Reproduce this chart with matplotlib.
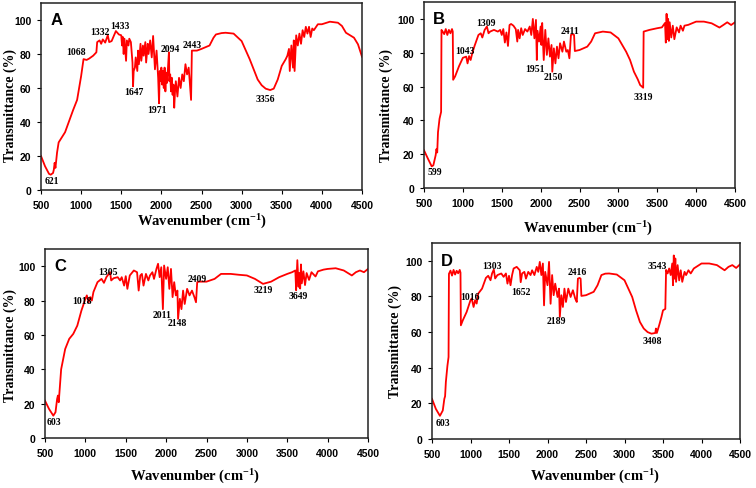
import matplotlib
matplotlib.use("Agg")
import matplotlib.pyplot as plt

plt.rcParams["mathtext.fontset"] = "custom"
plt.rcParams["mathtext.rm"] = "Liberation Serif:bold"
plt.rcParams["mathtext.bf"] = "Liberation Serif:bold"
plt.rcParams["mathtext.default"] = "bf"

# ---- Data ----
wn_a = [500, 550, 600, 621, 650, 660, 670, 680, 700, 720, 800, 900, 950, 1000, 1030, 1068, 1100, 1150, 1190,
        1200, 1230, 1250, 1270, 1300, 1332, 1350, 1380, 1433, 1470, 1500, 1510, 1520, 1530, 1540, 1560, 1570,
        1590, 1600, 1620, 1640, 1647, 1655, 1670, 1680, 1700, 1710, 1720, 1740, 1750, 1770, 1780, 1800, 1810,
        1830, 1840, 1860, 1880, 1897, 1910, 1920, 1940, 1960, 1971, 1980, 1990, 2000, 2010, 2020, 2030, 2040,
        2050, 2060, 2070, 2080, 2094, 2100, 2110, 2120, 2130, 2140, 2150, 2160, 2170, 2180, 2200, 2220, 2240,
        2260, 2280, 2300, 2320, 2340, 2350, 2370, 2380, 2443, 2500, 2550, 2600, 2650, 2680, 2750, 2800, 2900,
        3000, 3100, 3150, 3200, 3250,
        3300, 3356, 3400, 3450, 3500, 3550, 3570, 3590, 3600, 3620, 3640, 3650, 3660, 3680, 3700, 3720, 3740,
        3760, 3780, 3800, 3820, 3840, 3860, 3880, 3900, 3950, 4000, 4100, 4200, 4250, 4300, 4400, 4450, 4500]
t_a = [20, 14, 9.5, 9, 10, 12, 16, 13, 22, 28, 34, 47, 53, 67, 77, 76.5, 77.3, 79, 81,
       87, 88, 86, 88.6, 86.7, 91, 87, 87.6, 93.5, 91.5, 91, 85, 90, 80, 89, 76, 88,
       85, 89, 87, 75, 61, 70, 72, 78, 70, 82, 74, 86, 76, 85, 79, 87, 75,
       86, 80, 88, 78, 90.6, 80, 71, 82, 66, 51, 70, 64, 72, 62, 70, 60, 72,
       58, 69, 63, 70, 81, 64, 68, 58, 66, 56, 62, 48.4, 58, 64, 55, 66, 60,
       68, 64, 74, 68, 72, 66, 53, 82, 82, 83, 84, 85, 89.6, 91.5, 92.3, 92.5, 92,
       87.6, 77, 71, 65, 61.6,
       59.6, 58.8, 59.6, 65, 73, 77, 79, 83, 70, 85, 72, 88, 70, 91, 85, 92, 86,
       94, 90, 96, 92, 96, 90, 95, 94, 97.5, 97.5, 99, 98.4, 96.5, 92.5, 89.6, 85.7, 78.4]

wn_b = [500, 550, 599, 620, 650, 660, 670, 680, 700, 720, 725, 740, 760, 780, 800, 820, 840, 860, 870, 875,
        900, 950, 1000, 1043, 1060, 1080, 1100, 1120, 1150, 1200, 1230, 1250, 1280, 1309, 1330, 1350, 1400,
        1450, 1480, 1500, 1520, 1540, 1560, 1580, 1600, 1620, 1650, 1680, 1700, 1710, 1730, 1750, 1770, 1800,
        1830, 1860, 1880, 1900, 1920, 1940, 1951, 1960, 1980, 2000, 2010, 2020, 2040, 2060, 2080, 2100, 2120,
        2140, 2150, 2170, 2190, 2210, 2230, 2250, 2280, 2300, 2330, 2350, 2370, 2390, 2411, 2430, 2440, 2500,
        2600, 2650, 2700, 2750, 2800, 2900, 3000, 3100, 3150, 3200, 3250, 3280, 3319, 3325, 3400, 3500, 3560,
        3600, 3610, 3620,
        3630, 3640, 3650, 3660, 3680, 3700, 3720, 3750, 3780, 3800, 3830, 3850, 3900, 4000, 4100, 4200, 4300,
        4350, 4400, 4450, 4500]
t_b = [22.3, 17.4, 12.8, 13.4, 19.4, 23, 21, 33, 41, 45, 93.5, 92.5, 91, 94, 90.5, 93.5, 91.5, 94, 92.5, 64,
       66, 72, 77, 77.7, 73.7, 78, 75.7, 79.6, 84, 90.5, 91.5, 89, 93.5, 95.5, 91.5, 92.5, 93.5,
       92.5, 93.5, 90.5, 94, 86, 92, 84, 96.4, 97, 96, 94, 86.6, 93.5, 88.5, 94.5, 90.5, 94,
       92.5, 95.5, 90.5, 100, 88.5, 99.4, 75.7, 93, 86.6, 95.5, 84.6, 97.6, 75.7, 93.5, 78.7, 88.5, 77.7,
       84.6, 68.8, 82.6, 73.7, 83.6, 76.7, 85.6, 80.6, 86.6, 80.6, 81.6, 76.7, 90.5, 91, 90.5, 81, 81.6,
       83.6, 86.6, 91.5, 92, 92.5, 92, 88.5, 80.6, 75.7, 68.8, 64.2, 60.9, 59.3, 92.5, 93.5, 94.5, 95,
       97.6, 86, 103,
       88, 100, 87, 98, 89, 96, 88, 95, 92, 96, 93, 96, 96.5, 98.4, 98.4, 97.4, 94.9,
       96.4, 98, 96.4, 98]

wn_c = [500, 550, 603, 630, 650, 660, 670, 700, 750, 800, 850, 900, 950, 1000, 1018, 1040, 1060, 1080, 1100,
        1150, 1200, 1230, 1260, 1305, 1320, 1350, 1400, 1430, 1450, 1480, 1500, 1520, 1550, 1600, 1640, 1660,
        1680, 1700, 1720, 1750, 1780, 1800, 1830, 1850, 1880, 1900, 1920, 1940, 1960, 1975, 2000, 2020, 2040,
        2060, 2080, 2100, 2120, 2140, 2148, 2170, 2190, 2210, 2230, 2260, 2290, 2320, 2350, 2370, 2385, 2409,
        2500, 2600, 2680, 2800, 2900, 3000, 3100, 3200, 3300, 3400, 3500, 3560, 3600, 3610, 3625, 3640, 3650,
        3660, 3670, 3680, 3700, 3720, 3740, 3770, 3800, 3850, 3880, 3950, 4000, 4100, 4200, 4300, 4350, 4400,
        4450, 4500]
t_c = [21.7, 16.9, 13, 15, 22.7, 24.7, 20.8, 40, 51.8, 57.7, 60.6, 65.4, 74, 81, 83, 79, 82, 80, 85,
       90.7, 92.6, 90.3, 93.6, 96.5, 91.7, 93, 93.6, 91.7, 93.6, 88.7, 94.2, 86.8, 94.6, 97.5, 96.5, 85.8,
       94.6, 95.5, 88.7, 95.5, 91.7, 94.6, 96.5, 92.6, 98.4, 101.4, 93.6, 99.4, 75, 100.4, 92.6, 99.4, 86.8,
       98.4, 82, 90.7, 83, 85.8, 69.3, 81, 75, 85.8, 78, 86.8, 83, 85.8, 82, 79, 90.7, 91,
       91, 92.6, 95.5, 95.5, 95, 94.6, 92.6, 89.7, 91, 93.6, 95.5, 96.5, 97.5, 86, 103.5, 88, 96,
       87, 101, 90, 97, 89, 96, 92, 96.5, 94, 97, 98, 98.4, 98.8, 97.5, 94.6, 96.5, 97.5,
       96.5, 98.4]

wn_d = [500, 550, 603, 640, 660, 670, 680, 700, 715, 720, 740, 760, 780, 800, 820, 840, 860, 870, 875, 900,
        950, 1000, 1016, 1040, 1060, 1080, 1100, 1150, 1200, 1230, 1260, 1280, 1303, 1320, 1350, 1400, 1430,
        1460, 1480, 1500, 1520, 1540, 1560, 1600, 1640, 1652, 1670, 1700, 1720, 1750, 1780, 1800, 1830, 1860,
        1880, 1900, 1920, 1940, 1955, 1970, 2000, 2020, 2040, 2060, 2080, 2100, 2130, 2150, 2160, 2180, 2200,
        2220, 2240, 2270, 2300, 2330, 2360, 2380, 2395, 2416, 2430, 2440, 2500, 2600, 2650, 2700, 2750, 2800,
        2900, 3000, 3100, 3150, 3200, 3250, 3300, 3350, 3400, 3408, 3420, 3450, 3480, 3500, 3530, 3540, 3560,
        3580, 3600, 3620,
        3630, 3640, 3650, 3660, 3670, 3690, 3710, 3730, 3750, 3780, 3800, 3830, 3860, 3900, 4000, 4100, 4200,
        4300, 4350, 4400, 4450, 4500]
t_d = [22.5, 16.9, 13, 16, 22.5, 24, 32, 41, 46, 92.7, 94.5, 91.7, 94.9, 92.3, 94.4, 93, 94.9, 93.4, 63.8, 66.6,
       71.3, 77.9, 78.8, 74.1, 77.9, 76, 81.6, 84.4, 90.4, 91.6, 89.1, 92.9, 95.1, 90.1, 92, 92.9, 91,
       92.9, 87.2, 91.6, 86.3, 92, 95.7, 96.6, 94.7, 88, 92.9, 93.8, 90, 93.8, 92, 94.7, 92, 96.6,
       93.8, 99.4, 92, 98.5, 75, 93.8, 86.3, 99.4, 75.9, 92, 80.7, 87.2, 79.7, 84.4, 68.5, 80.7, 74.1,
       84.4, 76.9, 84.4, 79.7, 83.5, 78.8, 76.9, 90, 90.4, 90, 80.3, 80.7, 82.6, 86.3, 92, 92.8, 92.9,
       92.3, 89.1, 79.7, 72.2, 65.7, 62, 60, 59.1, 59.5, 62, 59.5, 63.8, 68.5, 72.2, 73, 94.9, 92.9,
       95.7, 92, 98.5,
       86.3, 103, 90, 101.3, 88.2, 97.6, 89, 94.7, 88.2, 93.8, 92, 94.7, 92.9, 95.7, 98.5, 98.5, 97.6,
       94.7, 96.6, 97.6, 96, 98]

labels_a = ["621", "1068", "1332", "1433", "1647", "1971", "2094", "2443", "3356"]
pos_a = [(633, 5.5), (937, 81.4), (1236, 93), (1485, 96.9), (1664, 58.2), (1951, 47.5), (2109, 83), (2388, 85.7), (3294, 53.7)]
labels_b = ["599", "1043", "1309", "1951", "2150", "2411", "3319"]
pos_b = [(646, 9.5), (1024, 81.2), (1303, 97.8), (1925, 70.8), (2161, 65.8), (2380, 93), (3320, 54)]
labels_c = ["603", "1018", "1305", "2011", "2148", "2409", "3219", "3649"]
pos_c = [(612, 9.7), (955, 80.2), (1285, 97), (1946, 71.8), (2140, 67), (2388, 93), (3207, 86.2), (3632, 83)]
labels_d = ["603", "1016", "1303", "1652", "2189", "2416", "3408", "3543"]
pos_d = [(647, 9.4), (990, 79.7), (1284, 97.6), (1661, 83), (2116, 66.6), (2389, 93.8), (3360, 55.3), (3429, 97.6)]

# ---- Figure ----
W, H = 756, 489
fig = plt.figure(figsize=(W / 100, H / 100), dpi=100)

def box(l, t, r, b):
    return [l / W, 1 - b / H, (r - l) / W, (b - t) / H]

# pixel boxes of the plot areas, x/y label positions
panels = [
    ("A", wn_a, t_a, labels_a, pos_a, box(41, 4, 362, 191), (202, 222), (10, 105)),
    ("B", wn_b, t_b, labels_b, pos_b, box(424, 3, 735, 189), (588, 229), (386, 105)),
    ("C", wn_c, t_c, labels_c, pos_c, box(45, 250, 368, 439), (195, 477), (10, 345)),
    ("D", wn_d, t_d, labels_d, pos_d, box(432, 244, 740, 440), (595, 477), (395, 342)),
]

for letter, wn, t, labs, pos, rect, xl, yl in panels:
    ax = fig.add_axes(rect)
    ax.plot(wn, t, color="#ff0000", linewidth=1.3)
    ax.set_xlim(500, 4500)
    ax.set_ylim(0, 110)
    ax.set_xticks(range(500, 4501, 500))
    ax.set_yticks(range(0, 101, 20))
    ax.tick_params(direction="out", length=3, width=0.8, pad=4)
    for lab in ax.get_xticklabels() + ax.get_yticklabels():
        lab.set_fontfamily("Liberation Sans")
        lab.set_fontweight("bold")
        lab.set_fontsize(7.5)
    for s in ax.spines.values():
        s.set_linewidth(1.1)
        s.set_color("#222222")
    ax.text(0.03, 0.95, letter, transform=ax.transAxes, ha="left", va="top",
            fontsize=12, fontweight="bold", family="Liberation Sans")
    for s, (x, y) in zip(labs, pos):
        ax.text(x, y, s, ha="center", va="center", fontsize=7,
                family="Liberation Serif", fontweight="bold")
    fig.text(xl[0] / W, 1 - xl[1] / H, "Wavenumber (cm$^{-1}$)", ha="center", va="center",
             fontsize=10.5, fontweight="bold", family="Liberation Serif")
    fig.text(yl[0] / W, 1 - yl[1] / H, "Transmittance (%)", ha="center", va="center", rotation=90,
             fontsize=10, fontweight="bold", family="Liberation Serif")

fig.savefig("out.png", dpi=100)
